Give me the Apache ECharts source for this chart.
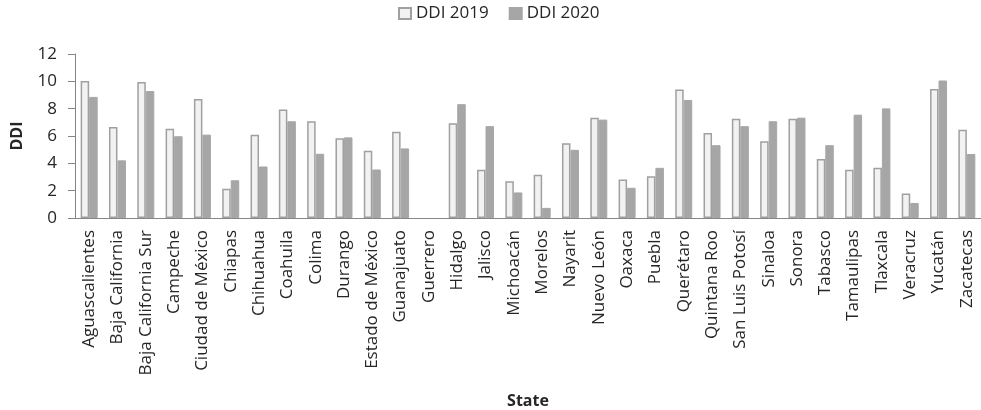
<!DOCTYPE html>
<html>
<head>
<meta charset="utf-8">
<script src="https://cdn.jsdelivr.net/npm/echarts@6/dist/echarts.min.js"></script>
<style>html,body{margin:0;padding:0;background:#fff}#c{width:981px;height:410px}</style>
</head>
<body>
<div id="c"></div>
<script>
const states = ["Aguascalientes","Baja California","Baja California Sur","Campeche","Ciudad de México","Chiapas","Chihuahua","Coahuila","Colima","Durango","Estado de México","Guanajuato","Guerrero","Hidalgo","Jalisco","Michoacán","Morelos","Nayarit","Nuevo León","Oaxaca","Puebla","Querétaro","Quintana Roo","San Luis Potosí","Sinaloa","Sonora","Tabasco","Tamaulipas","Tlaxcala","Veracruz","Yucatán","Zacatecas"];
const ddi2019 = [10.03,6.65,9.96,6.53,8.71,2.14,6.10,7.94,7.08,5.83,4.92,6.31,null,6.94,3.53,2.69,3.17,5.47,7.34,2.81,3.05,9.41,6.22,7.27,5.62,7.27,4.32,3.53,3.67,1.80,9.43,6.46];
const ddi2020 = [8.86,4.22,9.29,5.98,6.10,2.76,3.77,7.08,4.70,5.90,3.55,5.09,null,8.33,6.72,1.87,0.74,4.99,7.20,2.21,3.67,8.64,5.33,6.72,7.08,7.34,5.33,7.56,8.02,1.10,10.06,4.68];
const yTicks = [0,2,4,6,8,10,12];

const font = "'Open Sans', sans-serif";
const chart = echarts.init(document.getElementById('c'));
chart.setOption({
  animation: false,
  textStyle: {fontFamily: font},
  legend: {
    left: 398, top: 5, padding: 0,
    itemWidth: 12, itemHeight: 11, itemGap: 20,
    icon: 'rect',
    textStyle: {fontSize: 17, color: '#262626', fontFamily: font},
    data: ['DDI 2019','DDI 2020']
  },
  grid: {left: 75, right: -5, top: 54, bottom: 190, containLabel: false},
  xAxis: {
    type: 'category',
    data: states,
    name: 'State',
    nameLocation: 'middle',
    nameGap: 175,
    nameTextStyle: {fontSize: 16, fontWeight: 'bold', color: '#262626', fontFamily: font, verticalAlign: 'top'},
    axisLine: {lineStyle: {color: '#868686', width: 1}},
    axisTick: {length: 7, lineStyle: {color: '#868686'}},
    axisLabel: {rotate: 90, interval: 0, margin: 12, fontSize: 17, color: '#262626', fontFamily: font}
  },
  yAxis: {
    type: 'value',
    min: yTicks[0], max: yTicks[yTicks.length-1], interval: 2,
    name: 'DDI',
    nameLocation: 'middle',
    nameGap: 50,
    nameRotate: 90,
    nameTextStyle: {fontSize: 16, fontWeight: 'bold', color: '#262626', fontFamily: font},
    axisLine: {show: true, lineStyle: {color: '#868686', width: 1}},
    axisTick: {show: true, length: 7, lineStyle: {color: '#868686'}},
    splitLine: {show: false},
    axisLabel: {margin: 18, fontSize: 17, color: '#262626', fontFamily: font}
  },
  series: [
    {name: 'DDI 2019', type: 'bar', data: ddi2019, barWidth: 8.5, barGap: '0%',
     itemStyle: {color: '#f2f2f2', borderColor: '#a0a0a0', borderWidth: 1.5}},
    {name: 'DDI 2020', type: 'bar', data: ddi2020, barWidth: 8.5,
     itemStyle: {color: '#a6a6a6', borderColor: '#a6a6a6', borderWidth: 1}}
  ]
});
</script>
</body>
</html>
